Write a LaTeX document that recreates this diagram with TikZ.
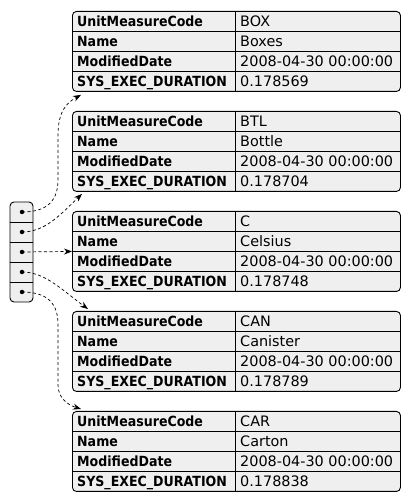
\documentclass[tikz,border=0pt]{standalone}
\usepackage{fontspec}
\setmainfont{DejaVu Sans}
\newfontfamily\keyfont[FakeStretch=0.9]{DejaVu Sans}
\usetikzlibrary{arrows.meta,calc}

\definecolor{recfill}{HTML}{EFEFEF}

\tikzset{
  rec/.style={draw=black, line width=0.9pt, rounded corners=4pt, fill=recfill,
    minimum width=328pt, minimum height=80pt, inner sep=0pt, anchor=north west},
  grid/.style={line width=0.8pt},
  key/.style={anchor=base west, inner sep=0pt, font=\keyfont\bfseries\fontsize{14}{16}\selectfont},
  val/.style={anchor=base west, inner sep=0pt, font=\fontsize{14.4}{16}\selectfont},
  slot/.style={circle, fill=black, inner sep=0pt, minimum size=4.5pt},
  link/.style={dash pattern=on 3pt off 2.5pt, line width=0.7pt,
    -{Stealth[length=8pt,width=6pt]}},
}

% One record table: #1 name, #2 top edge (measured downward), #3 code, #4 name, #5 duration
\newcommand\recordtable[5]{%
  \pgfmathsetmacro\rtop{502-#2}%
  \node[rec] (#1) at (72,\rtop) {};
  \foreach \k in {1,2,3} \draw[grid] (72,\rtop-20*\k) -- (400,\rtop-20*\k);
  \draw[grid] (235,\rtop) -- (235,\rtop-80);
  \node[key] (#1-k1) at (77,\rtop-15.2) {UnitMeasureCode};
  \node[key] (#1-k2) at (77,\rtop-35.2) {Name};
  \node[key] (#1-k3) at (77,\rtop-55.2) {ModifiedDate};
  \node[key] (#1-k4) at (77,\rtop-75.2) {SYS\_EXEC\_DURATION};
  \node[val] (#1-v1) at (240,\rtop-15.2) {#3};
  \node[val] (#1-v2) at (240,\rtop-35.2) {#4};
  \node[val] (#1-v3) at (240,\rtop-55.2) {2008-04-30 00:00:00};
  \node[val] (#1-v4) at (240,\rtop-75.2) {#5};
}

\begin{document}
\begin{tikzpicture}[x=1pt,y=1pt]
  \useasboundingbox (0,0) rectangle (410,502);

  % the five records
  \recordtable{t1}{11}{BOX}{Boxes}{0.178569}
  \recordtable{t2}{111}{BTL}{Bottle}{0.178704}
  \recordtable{t3}{211}{C}{Celsius}{0.178748}
  \recordtable{t4}{311}{CAN}{Canister}{0.178789}
  \recordtable{t5}{411}{CAR}{Carton}{0.178838}

  % pointer array
  \node[draw=black, line width=0.9pt, rounded corners=4pt, fill=recfill,
        minimum width=23pt, minimum height=100pt, inner sep=0pt] (arr) at (21.5,250) {};
  \foreach \k in {1,2,3,4} \draw[grid] (10,300-20*\k) -- (33,300-20*\k);
  \node[slot] (p1) at (22,290) {};
  \node[slot] (p2) at (22,270) {};
  \node[slot] (p3) at (22,250) {};
  \node[slot] (p4) at (22,230) {};
  \node[slot] (p5) at (22,210) {};

  % links from slots to records
  \draw[link] (p1.center) .. controls (42,290) and (58,297) .. (58,322)
     -- (58,367) .. controls (58,392) and (68,400) .. ($(t1.south west)+(9,-3)$);
  \draw[link] (p2.center) .. controls (45,270) and (60,287) .. ($(t2.south west)+(10,-2)$);
  \draw[link] (p3.center) -- (t3.west);
  \draw[link] (p4.center) .. controls (45,230) and (62,212) .. ($(t4.north west)+(16,2)$);
  \draw[link] (p5.center) .. controls (42,210) and (58,203) .. (58,178)
     -- (58,117) .. controls (58,104) and (68,97) .. ($(t5.north west)+(9,2)$);
\end{tikzpicture}
\end{document}
